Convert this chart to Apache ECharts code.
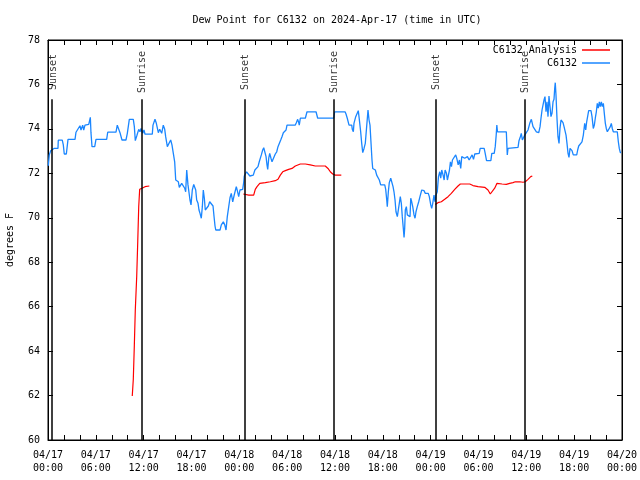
<!DOCTYPE html>
<html>
<head>
<meta charset="utf-8">
<script src="https://cdn.jsdelivr.net/npm/echarts@6/dist/echarts.min.js"></script>
<style>html,body{margin:0;padding:0;background:#fff}#c{width:640px;height:480px}</style>
</head>
<body>
<div id="c"></div>
<script>
// Hours since 2024-04-17 00:00 UTC
const startUTC = Date.UTC(2024, 3, 17, 0, 0);
const titleText = 'Dew Point for C6132 on 2024-Apr-17 (time in UTC)';
const yAxisName = 'degrees F';
const seriesNames = ['C6132 Analysis', 'C6132'];

const blueHours = [0.04,0.16,0.34,0.59,0.75,1.25,1.29,1.79,1.92,2.04,2.30,2.51,3.39,3.51,3.76,4.01,4.14,4.35,4.48,4.64,5.11,5.31,5.39,5.52,5.86,6.02,7.36,7.49,8.53,8.69,8.87,9.03,9.28,9.78,9.95,10.20,10.70,10.83,10.95,11.13,11.29,11.38,11.54,11.67,11.88,12.04,12.17,13.08,13.17,13.42,13.59,13.84,14.01,14.26,14.46,14.64,14.76,14.97,15.18,15.39,15.55,15.72,15.89,16.02,16.35,16.47,16.65,16.77,16.97,17.15,17.27,17.40,17.56,17.81,17.94,18.10,18.28,18.44,18.53,18.65,18.82,18.94,19.07,19.23,19.36,19.48,19.61,19.73,19.98,20.11,20.28,20.53,20.70,20.82,20.95,21.04,21.58,21.74,21.99,22.17,22.33,22.49,22.67,22.83,22.99,23.17,23.33,23.46,23.62,23.75,23.92,24.08,24.25,24.42,24.55,24.62,24.78,24.91,25.12,25.32,25.54,25.75,25.95,26.16,26.34,26.50,26.63,26.76,26.93,27.06,27.26,27.35,27.47,27.56,27.69,27.81,27.97,28.10,28.31,28.51,28.69,28.85,29.02,29.19,29.35,29.52,29.69,29.86,29.98,31.02,31.15,31.32,31.45,31.52,31.65,32.28,32.49,33.62,33.83,35.84,35.96,37.26,37.38,37.54,37.76,38.10,38.17,38.30,38.38,38.60,38.80,38.92,39.01,39.22,39.35,39.48,39.64,39.80,39.98,40.14,40.27,40.39,40.52,40.64,40.73,40.93,41.06,41.23,41.43,41.56,41.73,42.24,42.36,42.49,42.56,42.69,42.81,42.99,43.15,43.28,43.40,43.53,43.65,43.82,44.07,44.19,44.32,44.44,44.57,44.66,44.74,44.82,44.95,45.07,45.20,45.41,45.50,45.62,45.75,45.91,46.04,46.16,46.32,46.50,46.66,46.88,47.16,47.33,47.70,47.83,48.01,48.13,48.26,48.42,48.54,48.67,48.83,48.98,49.14,49.26,49.39,49.56,49.69,49.81,49.98,50.10,50.23,50.36,50.48,50.61,50.73,50.94,51.14,51.27,51.45,51.61,51.77,51.90,52.11,52.27,52.45,52.61,52.83,53.03,53.20,53.37,53.53,54.09,54.21,54.71,54.84,55.01,55.55,55.67,55.97,56.10,56.22,56.30,56.38,57.49,57.61,57.70,57.91,58.96,59.08,59.25,59.37,59.50,59.62,59.80,60.00,60.21,60.43,60.63,60.84,61.05,61.26,61.56,61.72,61.84,61.97,62.09,62.22,62.34,62.47,62.59,62.72,62.84,62.97,63.09,63.22,63.35,63.47,63.56,63.63,63.72,63.85,63.97,64.10,64.22,64.35,64.47,64.60,64.73,64.85,64.98,65.10,65.23,65.35,65.48,65.60,65.73,65.89,66.32,66.44,66.57,66.82,66.98,67.15,67.32,67.45,67.57,67.70,67.82,68.11,68.24,68.40,68.53,68.65,68.78,68.90,69.03,69.16,69.28,69.41,69.53,69.66,69.78,69.91,70.03,70.16,70.41,70.53,70.66,70.78,70.91,71.41,71.54,71.66,71.79,71.88];
const blueValues = [72.34,72.83,73.02,72.93,73.12,73.12,73.49,73.49,73.28,72.87,72.87,73.53,73.53,73.85,73.87,74.14,73.95,74.17,73.95,74.17,74.20,74.52,73.83,73.20,73.20,73.53,73.53,73.85,73.85,74.17,74.17,73.83,73.50,73.50,73.80,74.43,74.43,74.10,73.47,73.68,73.68,73.98,73.87,74.02,73.80,73.95,73.76,73.76,74.17,74.43,74.25,73.83,73.98,73.80,74.17,73.98,73.65,73.20,73.20,73.50,73.28,72.90,72.52,71.70,71.62,71.37,71.43,71.55,71.55,71.33,71.17,72.15,71.48,70.80,70.58,71.25,71.50,71.50,71.25,70.80,70.65,70.35,70.20,69.98,70.50,71.25,70.88,70.35,70.35,70.53,70.72,70.72,70.53,70.08,69.63,69.45,69.45,69.68,69.82,69.68,69.45,70.05,70.50,70.90,71.10,70.72,70.98,71.17,71.40,71.22,70.95,71.25,71.33,71.28,71.60,71.88,71.97,72.07,72.03,71.88,71.82,71.92,72.15,72.15,72.30,72.52,72.52,72.83,73.05,73.15,73.15,72.75,72.38,72.18,72.68,72.90,72.68,72.52,72.60,72.87,72.97,73.20,73.28,73.50,73.65,73.83,73.87,73.95,74.17,74.17,74.28,74.43,74.28,74.17,74.48,74.48,74.77,74.77,74.48,74.48,74.77,74.77,74.67,74.48,74.17,74.17,73.98,73.87,74.25,74.55,74.58,74.82,74.55,73.87,73.35,72.93,73.12,73.35,73.42,74.85,74.40,74.17,73.35,72.60,72.22,72.22,72.15,71.92,71.88,71.70,71.48,71.48,71.28,70.80,70.50,71.17,71.58,71.78,71.85,71.40,71.17,70.80,70.27,70.05,70.05,70.95,70.65,70.05,69.52,69.12,69.52,70.35,70.50,70.13,70.05,70.05,70.88,70.72,70.50,70.13,69.98,70.27,70.50,70.72,70.95,71.25,71.22,71.10,71.10,70.95,70.58,70.42,70.65,71.02,70.72,71.02,71.17,71.85,72.07,71.78,72.15,71.92,71.70,72.15,72.00,71.70,71.70,72.15,72.52,72.30,72.60,72.68,72.83,72.68,72.38,72.60,72.22,72.75,72.83,72.68,72.60,72.75,72.60,72.68,72.83,72.63,72.87,72.90,73.12,73.12,72.90,72.57,72.57,72.90,72.90,73.20,73.72,74.17,73.87,73.87,72.83,73.12,73.17,73.17,73.47,73.65,73.80,73.50,73.58,73.72,73.83,73.95,74.25,74.43,74.10,74.02,73.87,73.83,74.10,74.48,74.85,75.07,75.30,75.45,74.77,75.22,74.55,75.48,75.00,74.55,74.70,75.22,75.33,75.83,76.08,75.52,74.43,73.65,73.35,74.02,74.40,74.43,74.28,74.10,74.02,73.72,73.35,72.90,72.72,73.12,73.05,73.02,72.83,72.83,73.05,73.23,73.23,73.42,73.72,74.25,73.95,74.32,74.40,74.82,74.82,74.55,74.02,74.17,74.48,74.77,75.15,74.93,75.22,75.00,75.22,75.00,75.15,74.70,74.25,74.02,73.87,73.87,74.10,74.25,74.02,73.87,73.87,73.42,73.12,72.93,72.93];

// null marks a break between analysis runs
const redHours = [10.57,10.70,10.83,10.95,11.13,11.26,11.38,11.50,11.79,12.17,12.38,12.71,18.0,
  24.50,25.18,25.80,26.00,26.22,26.56,27.26,27.89,28.51,28.85,29.14,29.44,29.77,30.19,30.61,31.02,31.65,32.28,32.90,33.53,34.78,35.12,35.41,35.71,36.04,36.79,42.0,
  48.58,48.92,49.34,49.76,50.18,50.59,51.02,51.43,51.72,52.90,53.31,53.94,54.78,55.19,55.48,55.73,56.03,56.32,56.54,56.95,57.49,57.91,58.33,58.62,59.17,59.58,59.87,60.21,60.55,60.75];
const redValues = [61.98,62.73,64.27,65.85,67.38,68.95,70.50,71.28,71.33,71.40,71.43,71.43,null,
  71.07,71.02,71.02,71.28,71.40,71.55,71.58,71.62,71.67,71.73,71.92,72.07,72.12,72.18,72.22,72.33,72.42,72.42,72.38,72.33,72.33,72.22,72.07,71.97,71.92,71.92,null,
  70.60,70.68,70.72,70.83,70.95,71.10,71.28,71.43,71.52,71.52,71.45,71.40,71.37,71.25,71.07,71.07,71.33,71.55,71.58,71.52,71.50,71.55,71.58,71.62,71.62,71.60,71.62,71.73,71.85,71.88];

const sunEventNames = ['Sunset','Sunrise','Sunset','Sunrise','Sunset','Sunrise'];
const sunEventHours = [0.50, 11.75, 24.63, 35.84, 48.58, 59.75];

const FONT = 'DejaVu Sans Mono';
const pad = n => (n < 10 ? '0' : '') + n;
function fmtHour(v) {
  if (Math.abs(v % 6) > 1e-6) return '';
  const d = new Date(startUTC + v * 3600000);
  return pad(d.getUTCMonth() + 1) + '/' + pad(d.getUTCDate()) + '\n' + pad(d.getUTCHours()) + ':' + pad(d.getUTCMinutes());
}

const chart = echarts.init(document.getElementById('c'), null, {renderer: 'canvas'});
const axisCommon = {
  axisLine: {show: true, onZero: false, lineStyle: {color: '#000', width: 1}},
  axisTick: {show: true, inside: true, length: 5, lineStyle: {color: '#000'}},
  splitLine: {show: false}
};
chart.setOption({
  animation: false,
  backgroundColor: '#fff',
  textStyle: {fontFamily: FONT},
  title: {
    text: titleText, left: 332, top: 10, textAlign: 'center',
    textStyle: {fontFamily: FONT, fontSize: 10, fontWeight: 'normal', color: '#000'}
  },
  legend: {
    data: seriesNames, orient: 'vertical', align: 'right', right: 25, top: 39,
    icon: 'rect', itemWidth: 28, itemHeight: 1.5, itemGap: 1,
    textStyle: {fontFamily: FONT, fontSize: 10, color: '#000', lineHeight: 12}
  },
  grid: {left: 48, right: 18, top: 40, bottom: 40, show: true, borderColor: '#000', borderWidth: 1,
    containLabel: false, outerBoundsMode: 'none'},
  xAxis: [
    Object.assign({type: 'value', min: 0, max: 72, interval: 2, position: 'bottom',
      axisLabel: {formatter: fmtHour, color: '#000', fontFamily: FONT, fontSize: 10, lineHeight: 13, margin: 9, showMinLabel: true, showMaxLabel: true}}, axisCommon),
    Object.assign({type: 'value', min: 0, max: 72, interval: 2, position: 'top', axisLabel: {show: false}}, axisCommon)
  ],
  yAxis: [
    Object.assign({type: 'value', min: 60, max: 78, interval: 2, position: 'left',
      name: yAxisName, nameLocation: 'middle', nameGap: 33, nameRotate: 90,
      nameTextStyle: {fontFamily: FONT, fontSize: 10, color: '#000'},
      axisLabel: {color: '#000', fontFamily: FONT, fontSize: 10, margin: 8}}, axisCommon),
    Object.assign({type: 'value', min: 60, max: 78, interval: 2, position: 'right', axisLabel: {show: false}}, axisCommon)
  ],
  series: [
    {
      name: 'sun', type: 'scatter', symbolSize: 0, silent: true,
      data: sunEventHours.map((h, i) => ({name: sunEventNames[i], value: [h + 0.12, 76.56]})),
      label: {show: true, position: 'inside', rotate: 90, formatter: p => p.name,
        fontFamily: FONT, fontSize: 10, color: '#000'},
      markLine: {
        silent: true, symbol: ['none', 'none'], label: {show: false},
        lineStyle: {color: '#000', width: 1.5, type: 'solid'},
        data: sunEventHours.map(h => [{coord: [h, 60]}, {coord: [h, 75.33]}])
      }
    },
    {
      name: seriesNames[0], type: 'line', showSymbol: false, symbol: 'none',
      connectNulls: false,
      lineStyle: {color: '#ff0000', width: 1.2}, itemStyle: {color: '#ff0000'},
      data: redHours.map((h, i) => [h, redValues[i] === null ? '-' : redValues[i]])
    },
    {
      name: seriesNames[1], type: 'line', showSymbol: false, symbol: 'none',
      lineStyle: {color: '#1a86ff', width: 1.3}, itemStyle: {color: '#1a86ff'},
      data: blueHours.map((h, i) => [h, blueValues[i]])
    }
  ]
});
</script>
</body>
</html>
